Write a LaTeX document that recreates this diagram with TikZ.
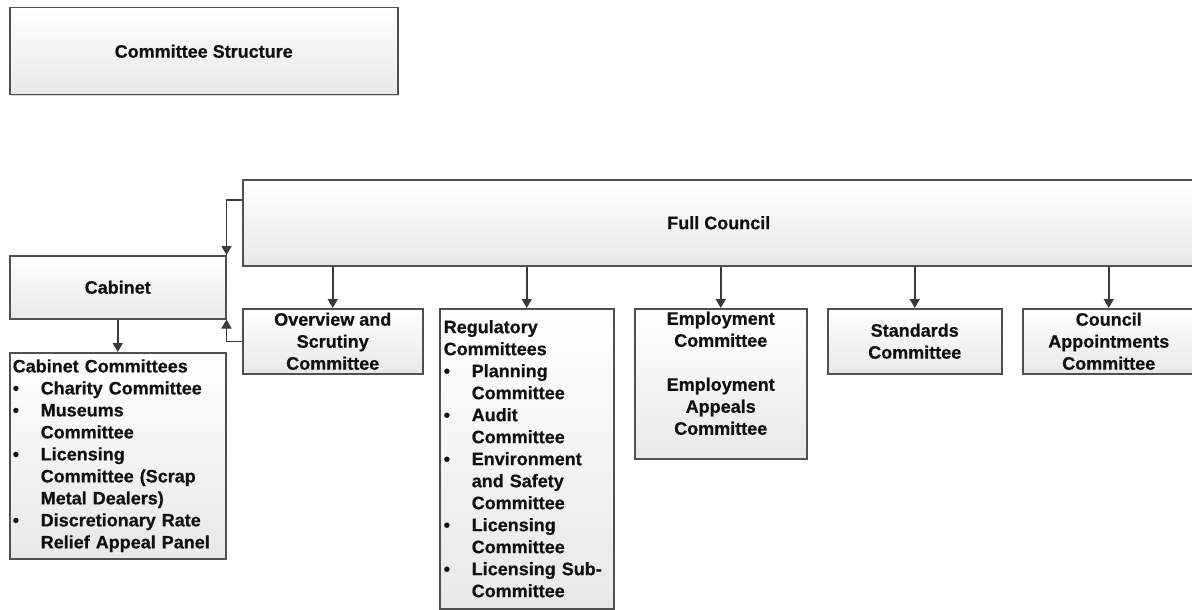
\documentclass[tikz,border=0pt]{standalone}
\usepackage{fontspec}
\setmainfont{Liberation Sans}[BoldFeatures={FakeBold=0.6}]
\usepackage{xcolor}
\usetikzlibrary{positioning,arrows.meta,shadows}
\definecolor{boxline}{HTML}{505050}
\definecolor{boxtext}{HTML}{111111}
\definecolor{boxshade}{HTML}{e8e8e8}
\definecolor{linkline}{HTML}{3a3a3a}
\newcommand{\bulletmark}{\makebox[28pt][l]{\textbullet}}
\newcommand{\bulletindent}{\hspace*{28pt}}

\begin{document}
\begin{tikzpicture}[
        x=1pt, y=-1pt,
        every node/.style={
            rectangle,
            draw=boxline,
            line width=1.5pt,
            top color=white,
            bottom color=boxshade,
            text=boxtext,
            inner sep=0pt,
            anchor=north west,
            align=center,
            font=\fontsize{18}{22}\selectfont\bfseries,
            drop shadow={shadow xshift=1.5pt, shadow yshift=-1.5pt, opacity=0.3}
        },
        listbox/.style={
            align=left,
            inner xsep=3pt
        },
        arrow/.style={
            -{Triangle[length=9pt, width=10pt]},
            line width=1.5pt,
            color=linkline
        }
    ]
        \useasboundingbox (0,0) rectangle (1192,610);
        \clip (0,0) rectangle (1192,610);
        \fill[white] (0,0) rectangle (1192,610);

        \node (title) [minimum width=388pt, minimum height=87pt] at (9,7) {Committee Structure};
        \node (council) [minimum width=952pt, minimum height=86pt] at (242,179) {Full Council};
        \node (cabinet) [minimum width=216pt, minimum height=63pt] at (9,255) {Cabinet};
        \node (cabcom) [listbox, text width=210pt, minimum height=206pt] at (9,352) {Cabinet Committees\\
            \bulletmark Charity Committee\\
            \bulletmark Museums\\
            \bulletindent Committee\\
            \bulletmark Licensing\\
            \bulletindent Committee (Scrap\\
            \bulletindent Metal Dealers)\\
            \bulletmark Discretionary Rate\\
            \bulletindent Relief Appeal Panel};
        \node (scrutiny) [minimum width=180pt, minimum height=65pt] at (242,308) {Overview and\\Scrutiny\\Committee};
        \node (regulatory) [listbox, inner xsep=4pt, text width=166pt, minimum height=300pt] at (439,308) {Regulatory\\
            Committees\\
            \bulletmark Planning\\
            \bulletindent Committee\\
            \bulletmark Audit\\
            \bulletindent Committee\\
            \bulletmark Environment\\
            \bulletindent and Safety\\
            \bulletindent Committee\\
            \bulletmark Licensing\\
            \bulletindent Committee\\
            \bulletmark Licensing Sub-\\
            \bulletindent Committee};
        \node (employment) [text width=172pt, text height=16pt, text depth=134pt] at (634,308) {Employment\\Committee\\[22pt]Employment\\Appeals\\Committee};
        \node (standards) [minimum width=174pt, minimum height=65pt] at (827,308) {Standards\\Committee};
        \node (appoint) [minimum width=172pt, minimum height=65pt] at (1022,308) {Council\\Appointments\\Committee};

        % council to its committees
        \draw[arrow] (council.south -| scrutiny.north) -- (scrutiny.north);
        \draw[arrow] (council.south -| regulatory.north) -- (regulatory.north);
        \draw[arrow] (council.south -| employment.north) -- (employment.north);
        \draw[arrow] (council.south -| standards.north) -- (standards.north);
        \draw[arrow] (council.south -| appoint.north) -- (appoint.north);

        % cabinet links
        \draw[arrow] ([yshift=-21pt]council.north west) -| (cabinet.north east);
        \draw[arrow] (scrutiny.west) -| (cabinet.south east);
        \draw[arrow] (cabinet.south) -- (cabcom.north);
    \end{tikzpicture}
\end{document}
